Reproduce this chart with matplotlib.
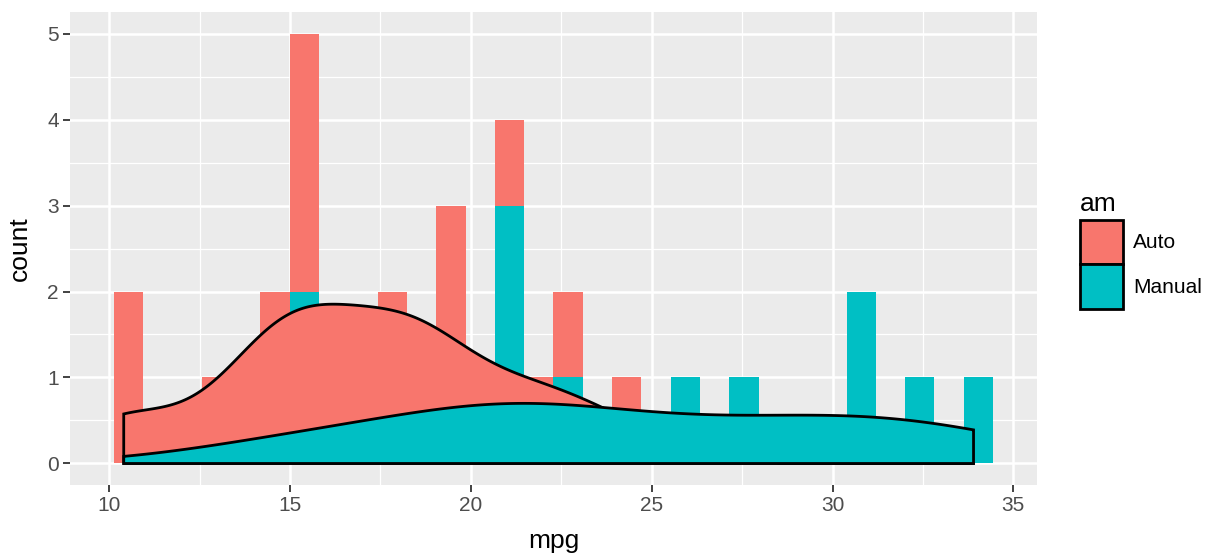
import numpy as np
import matplotlib.pyplot as plt
from matplotlib.patches import Patch

plt.rcParams['font.family'] = ['Liberation Sans', 'DejaVu Sans']

# mtcars mpg split by transmission
mpg_auto = [21.4, 18.7, 18.1, 14.3, 24.4, 22.8, 19.2, 17.8, 16.4, 17.3,
            15.2, 10.4, 10.4, 14.7, 21.5, 15.5, 15.2, 13.3, 19.2]
mpg_manual = [21.0, 21.0, 22.8, 32.4, 30.4, 33.9, 27.3, 26.0, 30.4,
              15.8, 19.7, 15.0, 21.4]
groups = ['Auto', 'Manual']
colors = {'Auto': '#F8766D', 'Manual': '#00BFC4'}

allv = np.array(mpg_auto + mpg_manual)
lo, hi = allv.min(), allv.max()

# ggplot-style bins=30
nbins = 30
width = (hi - lo) / (nbins - 1)
boundary = width / 2
origin = boundary + np.floor((lo - boundary) / width) * width
edges = origin + width * np.arange(0, nbins + 2)
edges = edges[edges <= hi + width]

cnt_auto, _ = np.histogram(mpg_auto, bins=edges)
cnt_manual, _ = np.histogram(mpg_manual, bins=edges)


def kde_count(vals, grid):
    v = np.asarray(vals)
    n = len(v)
    q75, q25 = np.percentile(v, [75, 25])
    bw = 0.9 * min(v.std(ddof=1), (q75 - q25) / 1.34) * n ** -0.2
    d = np.exp(-0.5 * ((grid[:, None] - v[None, :]) / bw) ** 2).sum(1)
    d = d / (n * bw * np.sqrt(2 * np.pi))
    return d * n


grid = np.linspace(lo, hi, 512)

fig = plt.figure(figsize=(12.15, 5.59), dpi=100)
ax = fig.add_axes([0.0576, 0.1324, 0.7959, 0.8461])
ax.set_facecolor('#EBEBEB')

centers = (edges[:-1] + edges[1:]) / 2
ax.bar(centers, cnt_manual, width=width, color=colors['Manual'], linewidth=0, zorder=2)
ax.bar(centers, cnt_auto, width=width, bottom=cnt_manual, color=colors['Auto'],
       linewidth=0, zorder=2)

for g, vals in [('Auto', mpg_auto), ('Manual', mpg_manual)]:
    y = kde_count(vals, grid)
    xs = np.concatenate([[grid[0]], grid, [grid[-1], grid[0]]])
    ys = np.concatenate([[0], y, [0, 0]])
    ax.fill(xs, ys, facecolor=colors[g], edgecolor='black', linewidth=2, zorder=3)

x0, x1 = edges[0], edges[-1]
pad = (x1 - x0) * 0.05
ax.set_xlim(x0 - pad, x1 + pad)
ax.set_ylim(-0.25, 5.25)

ax.set_xticks([10, 15, 20, 25, 30, 35])
ax.set_yticks([0, 1, 2, 3, 4, 5])
ax.set_xticks([12.5, 17.5, 22.5, 27.5, 32.5], minor=True)
ax.set_yticks([0.5, 1.5, 2.5, 3.5, 4.5], minor=True)
ax.grid(which='major', color='white', linewidth=1.8, zorder=0)
ax.grid(which='minor', color='white', linewidth=0.9, zorder=0)
ax.set_axisbelow(True)
for s in ax.spines.values():
    s.set_visible(False)
ax.tick_params(which='major', length=5, width=1.3, color='#333333',
               labelsize=15, labelcolor='#4D4D4D', pad=3)
ax.tick_params(which='minor', length=0)
ax.set_xlabel('mpg', fontsize=19, labelpad=10)
ax.set_ylabel('count', fontsize=19, labelpad=11)

handles = [Patch(facecolor=colors[g], edgecolor='black', linewidth=2, label=g)
           for g in groups]
leg = fig.legend(handles=handles, title='am', loc='upper left',
                 bbox_to_anchor=(0.889, 0.657), frameon=False, fontsize=15,
                 title_fontsize=19, handlelength=2.05, handleheight=2.9,
                 handletextpad=0.5, labelspacing=0.0, borderaxespad=0,
                 borderpad=0)
leg._legend_box.align = 'left'
leg._legend_box.sep = 3

fig.savefig('out.png', dpi=100)
